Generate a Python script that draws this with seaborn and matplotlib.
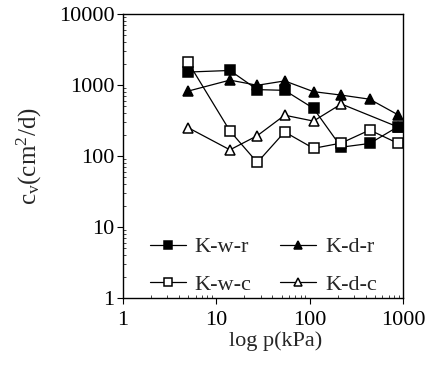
import matplotlib
matplotlib.use("Agg")
import matplotlib.pyplot as plt
import seaborn as sns
import pandas as pd
import numpy as np
from matplotlib.ticker import LogLocator, NullFormatter, FixedLocator, FixedFormatter

sns.set_style("ticks")
plt.rcParams['font.family'] = ['Liberation Serif', 'DejaVu Serif']
plt.rcParams['mathtext.fontset'] = 'custom'
plt.rcParams['mathtext.rm'] = 'Liberation Serif'
plt.rcParams['mathtext.it'] = 'Liberation Serif'

# Data
pressure = [5, 14, 27.5, 54, 110, 218, 440, 890]
kwr = [1520, 1600, 860, 840, 468, 133, 150, 260]
kdr = [820, 1170, 990, 1140, 805, 720, 630, 378]
kwc = [2080, 225, 81, 218, 128, 152, 232, 150]
kdc_p = [5, 14, 27.5, 54, 110, 218, 890]
kdc = [250, 122, 193, 375, 310, 540, 255]

series_names = ["K-w-r", "K-d-r", "K-w-c", "K-d-c"]
xticks = [1, 10, 100, 1000]
yticks = [1, 10, 100, 1000, 10000]

fig = plt.figure(figsize=(4.39, 3.67), dpi=100)
ax = fig.add_axes([0.280, 0.188, 0.638, 0.774])

styles = {
    "K-w-r": dict(marker='s', markerfacecolor='black'),
    "K-d-r": dict(marker='^', markerfacecolor='black'),
    "K-w-c": dict(marker='s', markerfacecolor='white'),
    "K-d-c": dict(marker='^', markerfacecolor='white'),
}
data = {
    "K-w-r": (pressure, kwr),
    "K-d-r": (pressure, kdr),
    "K-w-c": (pressure, kwc),
    "K-d-c": (kdc_p, kdc),
}
order = ["K-d-c", "K-w-r", "K-d-r", "K-w-c"]
for name in order:
    xs, ys = data[name]
    df = pd.DataFrame({"p": xs, "cv": ys})
    sns.lineplot(data=df, x="p", y="cv", ax=ax, color='black', linewidth=0.9,
                 markersize=7.8, markeredgecolor='black', markeredgewidth=1.1,
                 label=name, estimator=None, sort=True, **styles[name])

ax.set_xscale('log')
ax.set_yscale('log')
ax.set_xlim(1, 1000)
ax.set_ylim(1, 10000)
ax.xaxis.set_major_locator(FixedLocator(xticks))
ax.xaxis.set_major_formatter(FixedFormatter([str(t) for t in xticks]))
ax.yaxis.set_major_locator(FixedLocator(yticks))
ax.yaxis.set_major_formatter(FixedFormatter([str(t) for t in yticks]))
ax.xaxis.set_minor_locator(LogLocator(base=10, subs=np.arange(2, 10)))
ax.yaxis.set_minor_locator(LogLocator(base=10, subs=np.arange(2, 10)))
ax.xaxis.set_minor_formatter(NullFormatter())
ax.yaxis.set_minor_formatter(NullFormatter())
ax.tick_params(which='major', direction='out', length=4, width=0.8, labelsize=16, colors='black')
ax.tick_params(axis='x', which='major', pad=5)
ax.tick_params(axis='y', which='major', pad=2)
ax.tick_params(which='minor', direction='in', length=2, width=0.6)
for s in ax.spines.values():
    s.set_visible(True)
    s.set_linewidth(1.0)
    s.set_color('black')

ax.set_xlabel("log p(kPa)", fontsize=16)
ax.xaxis.set_label_coords(0.545, -0.118)
ax.set_ylabel(r"c$_\mathregular{v}$(cm$^\mathregular{2}$/d)", fontsize=18)
ax.yaxis.set_label_coords(-0.28, 0.5)

h, l = ax.get_legend_handles_labels()
hd = dict(zip(l, h))
leg_order = ["K-w-r", "K-w-c", "K-d-r", "K-d-c"]
ax.legend([hd[n] for n in leg_order], leg_order, ncol=2, frameon=False,
          loc='lower left', bbox_to_anchor=(0.05, -0.035), fontsize=16,
          handlelength=1.6, handletextpad=0.4, columnspacing=1.3,
          labelspacing=0.75, borderaxespad=0.2, markerscale=0.8)

fig.savefig("out.png", dpi=100)
